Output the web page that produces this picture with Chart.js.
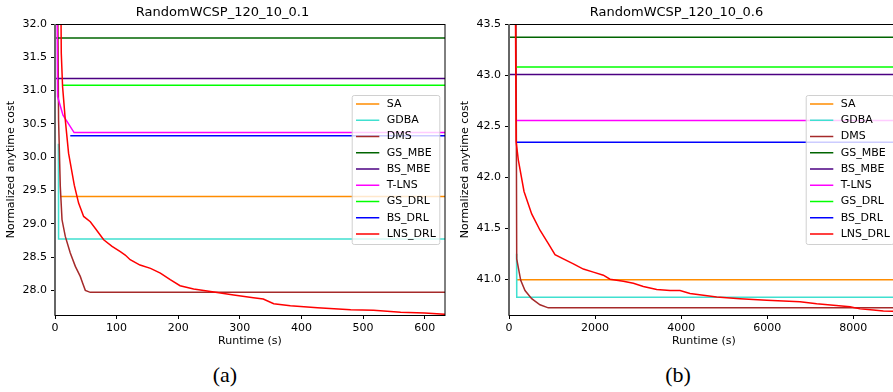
<!DOCTYPE html>
<html>
<head>
<meta charset="utf-8">
<script src="https://cdn.jsdelivr.net/npm/chart.js@4.4.1/dist/chart.umd.min.js"></script>
<style>
  body { margin: 0; width: 893px; height: 392px; overflow: hidden; background: #fff; position: relative; }
  canvas { position: absolute; top: 0; }
  #chartA { left: 0; }
  #chartB { left: 454px; }
  .cap { position: absolute; top: 363px; width: 60px; line-height: 24px; text-align: center;
         font-family: 'Liberation Serif', serif; font-size: 22px; color: #000; }
</style>
</head>
<body>
<canvas id="chartA" width="450" height="352"></canvas>
<canvas id="chartB" width="450" height="352"></canvas>
<div class="cap" style="left:195px">(a)</div>
<div class="cap" style="left:648px">(b)</div>
<script>
// methods, same order as the legend
const methods = ['SA', 'GDBA', 'DMS', 'GS_MBE', 'BS_MBE', 'T-LNS', 'GS_DRL', 'BS_DRL', 'LNS_DRL'];
const colors = ['#ff8c00', '#40e0d0', '#a52a2a', '#006400', '#4b0082', '#ff00ff', '#00ff00', '#0000ff', '#ff0000'];

// (a) RandomWCSP_120_10_0.1  -- [runtime (s), cost]
const titleA = 'RandomWCSP_120_10_0.1';
const xMaxA = 633, yMinA = 27.63, yMaxA = 32.0;
const xTicksA = [0, 100, 200, 300, 400, 500, 600];
const yTicksA = [28.0, 28.5, 29.0, 29.5, 30.0, 30.5, 31.0, 31.5, 32.0];
const SA_a = [[8.6, 29.41], [633, 29.41]];
const GDBA_a = [[5.5, 30.2], [5.8, 28.77], [633, 28.77]];
const DMS_a = [[4, 33.0], [5.8, 30.56], [8.6, 29.56], [11.4, 29.06], [16.7, 28.81], [24.8, 28.56],
  [33, 28.36], [41, 28.21], [44.8, 28.11], [49.2, 28.0], [57.3, 27.97], [633, 27.97]];
const GS_MBE_a = [[0, 31.79], [633, 31.79]];
const BS_MBE_a = [[0, 31.18], [633, 31.18]];
const T_LNS_a = [[3, 33.0], [4.2, 30.91], [13, 30.63], [31, 30.37], [633, 30.37]];
const GS_DRL_a = [[13, 31.08], [633, 31.08]];
const BS_DRL_a = [[24.8, 30.32], [633, 30.32]];
const LNS_DRL_a = [[9, 33.0], [10.2, 31.56], [12.3, 31.06], [16.7, 30.56], [22, 30.06], [31.3, 29.58],
  [38.3, 29.31], [46.5, 29.11], [57.3, 29.03], [65.5, 28.93], [79, 28.76], [92.6, 28.66], [106, 28.58],
  [114, 28.53], [122, 28.46], [138, 28.38], [155, 28.33], [171, 28.26], [187, 28.16], [203, 28.07],
  [225, 28.02], [247, 27.99], [290, 27.93], [322, 27.89], [338, 27.87], [355, 27.8], [382, 27.77],
  [426, 27.74], [480, 27.71], [517, 27.7], [561, 27.67], [600, 27.66], [633, 27.64]];

// (b) RandomWCSP_120_10_0.6
const titleB = 'RandomWCSP_120_10_0.6';
const xMaxB = 9060, yMinB = 40.65, yMaxB = 43.5;
const xTicksB = [0, 2000, 4000, 6000, 8000];
const yTicksB = [41.0, 41.5, 42.0, 42.5, 43.0, 43.5];
const SA_b = [[180, 40.995], [9060, 40.995]];
const GDBA_b = [[175, 41.25], [180, 40.824], [9060, 40.824]];
const DMS_b = [[160, 44.0], [179, 41.2], [272, 40.99], [372, 40.89], [527, 40.81], [720, 40.75],
  [913, 40.72], [1185, 40.72], [9060, 40.72]];
const GS_MBE_b = [[0, 43.37], [9060, 43.37]];
const BS_MBE_b = [[0, 43.005], [9060, 43.005]];
const T_LNS_b = [[179, 42.556], [9060, 42.556]];
const GS_DRL_b = [[179, 43.08], [9060, 43.08]];
const BS_DRL_b = [[179, 42.343], [9060, 42.343]];
const LNS_DRL_b = [[140, 44.5], [165, 42.35], [216, 42.17], [349, 41.86], [527, 41.64], [720, 41.48],
  [914, 41.35], [1069, 41.24], [1262, 41.2], [1495, 41.15], [1727, 41.1], [1959, 41.07], [2192, 41.04],
  [2347, 41.0], [2656, 40.98], [2889, 40.96], [3121, 40.93], [3431, 40.9], [3741, 40.89], [3973, 40.89],
  [4205, 40.86], [4515, 40.843], [4825, 40.826], [5057, 40.82], [5367, 40.81], [5987, 40.794],
  [6374, 40.787], [6761, 40.78], [7148, 40.76], [7535, 40.745], [7923, 40.73], [8155, 40.71],
  [8465, 40.7], [8697, 40.69], [8914, 40.686], [9060, 40.667]];

Chart.defaults.font.family = 'DejaVu Sans';
Chart.defaults.color = '#000';

// axes box + legend drawn inside the plot, like matplotlib
const frameAndLegend = {
  id: 'frameAndLegend',
  afterDatasetsDraw(chart) {
    const ctx = chart.ctx, a = chart.chartArea;
    ctx.save();
    ctx.strokeStyle = '#000';
    ctx.lineWidth = 1;
    ctx.strokeRect(a.left, a.top + 0.5, a.right - a.left, a.bottom - a.top);
    ctx.strokeStyle = '#666';
    ctx.lineWidth = 2;
    ctx.beginPath();
    ctx.moveTo(a.left, a.top);
    ctx.lineTo(a.left, a.bottom);
    ctx.stroke();

    let left = a.right - 93.3, top = 95, w = 87.6, h = 149;
    ctx.beginPath();
    ctx.roundRect(left + 0.5, top + 0.5, w, h, 2);
    ctx.fillStyle = 'rgba(255,255,255,0.8)';
    ctx.fill();
    ctx.strokeStyle = '#d0d0d0';
    ctx.lineWidth = 1;
    ctx.stroke();
    ctx.font = '11px "DejaVu Sans"';
    ctx.textBaseline = 'middle';
    chart.data.datasets.forEach((ds, i) => {
      let y = 104 + i * 16.25;
      ctx.strokeStyle = ds.borderColor;
      ctx.lineWidth = 1.5;
      ctx.beginPath();
      ctx.moveTo(left + 4.3, y);
      ctx.lineTo(left + 27.6, y);
      ctx.stroke();
      ctx.fillStyle = '#000';
      ctx.fillText(ds.label, left + 35, y);
    });
    ctx.restore();
  }
};

function makeChart(id, title, series, xMax, xTicks, yMin, yMax, yTicks) {
  let ctx = document.getElementById(id).getContext('2d');
  return new Chart(ctx, {
    type: 'line',
    data: {
      datasets: series.map((s, i) => ({
        label: methods[i],
        data: s.map(p => ({x: p[0], y: p[1]})),
        borderColor: colors[i],
        backgroundColor: colors[i],
        borderWidth: 1.5,
        pointRadius: 0,
        tension: 0,
        fill: false,
        order: methods.length - i // later series on top
      }))
    },
    options: {
      responsive: false,
      animation: false,
      layout: {padding: {left: 0, right: 5, top: 0, bottom: 0}},
      plugins: {
        legend: {display: false},
        tooltip: {enabled: false},
        title: {
          display: true,
          text: title,
          font: {size: 13, weight: 'normal'},
          color: '#000',
          padding: {top: 5, bottom: 3.4}
        }
      },
      scales: {
        x: {
          type: 'linear',
          min: 0,
          max: xMax,
          afterBuildTicks: scale => { scale.ticks = xTicks.map(v => ({value: v})); },
          afterFit: scale => { scale.height = 37; },
          border: {display: false},
          grid: {display: true, drawOnChartArea: false, drawTicks: true, tickLength: 4, tickColor: '#000'},
          ticks: {font: {size: 11}, padding: 3, maxRotation: 0, autoSkip: false, callback: v => String(v)},
          title: {display: true, text: 'Runtime (s)', font: {size: 11}, padding: {top: 0, bottom: 4}}
        },
        y: {
          min: yMin,
          max: yMax,
          afterBuildTicks: scale => { scale.ticks = yTicks.map(v => ({value: v})); },
          afterFit: scale => { scale.width = 55; },
          border: {display: false},
          grid: {display: true, drawOnChartArea: false, drawTicks: true, tickLength: 4, tickColor: '#000'},
          ticks: {font: {size: 11}, padding: 4, autoSkip: false, callback: v => v.toFixed(1)},
          title: {display: true, text: 'Normalized anytime cost', font: {size: 11}, padding: {top: 5, bottom: 0}}
        }
      }
    },
    plugins: [frameAndLegend]
  });
}

makeChart('chartA', titleA,
  [SA_a, GDBA_a, DMS_a, GS_MBE_a, BS_MBE_a, T_LNS_a, GS_DRL_a, BS_DRL_a, LNS_DRL_a],
  xMaxA, xTicksA, yMinA, yMaxA, yTicksA);
makeChart('chartB', titleB,
  [SA_b, GDBA_b, DMS_b, GS_MBE_b, BS_MBE_b, T_LNS_b, GS_DRL_b, BS_DRL_b, LNS_DRL_b],
  xMaxB, xTicksB, yMinB, yMaxB, yTicksB);
</script>
</body>
</html>
